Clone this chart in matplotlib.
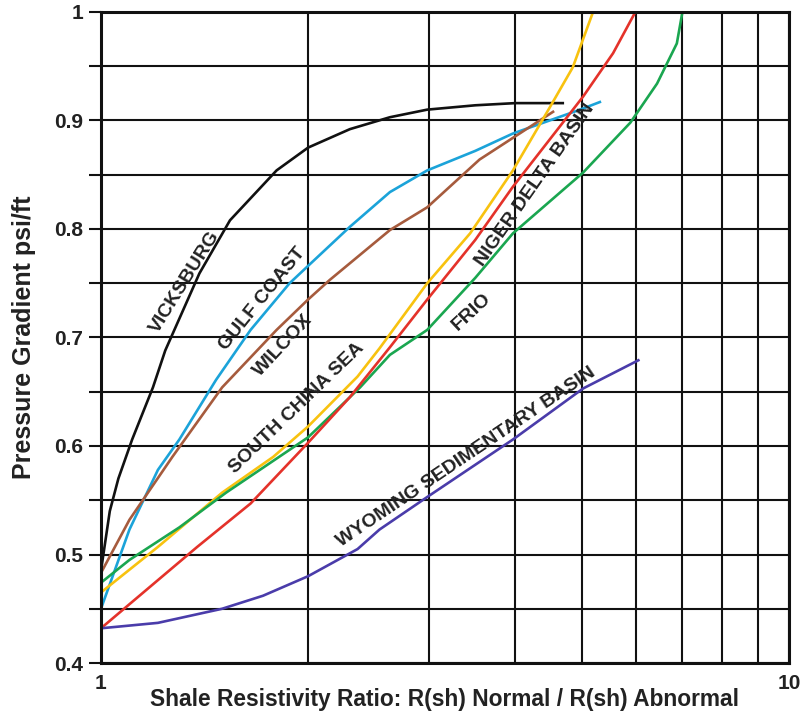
#--------importing modules-------------

import matplotlib.pyplot as plt
from matplotlib.ticker import NullFormatter
import numpy as np

#---------------------------------------
#-------curve data (ratio, gradient)----
#---------------------------------------

vicksburg_x = [1.0, 1.03, 1.06, 1.11, 1.19, 1.24, 1.39, 1.54, 1.80, 2.0, 2.3, 2.63, 2.98, 3.5, 4.0, 4.69]
vicksburg_y = [0.485, 0.54, 0.57, 0.606, 0.654, 0.688, 0.759, 0.808, 0.854, 0.875, 0.892, 0.903, 0.910, 0.914, 0.916, 0.916]

gulf_x = [1.0, 1.10, 1.21, 1.30, 1.47, 1.65, 1.88, 2.0, 2.30, 2.63, 2.98, 3.5, 3.97, 4.97, 5.31]
gulf_y = [0.45, 0.523, 0.578, 0.606, 0.661, 0.707, 0.750, 0.766, 0.802, 0.834, 0.854, 0.872, 0.888, 0.910, 0.917]

wilcox_x = [1.0, 1.10, 1.27, 1.50, 1.80, 2.0, 2.15, 2.63, 2.98, 3.55, 4.54]
wilcox_y = [0.483, 0.532, 0.590, 0.654, 0.707, 0.735, 0.753, 0.799, 0.820, 0.864, 0.908]

scs_x = [1.0, 1.21, 1.50, 1.78, 2.0, 2.36, 2.54, 2.98, 3.44, 3.97, 4.49, 4.85, 5.19]
scs_y = [0.465, 0.507, 0.557, 0.590, 0.618, 0.664, 0.690, 0.750, 0.796, 0.854, 0.912, 0.949, 1.0]

frio_x = [1.0, 1.10, 1.30, 1.52, 2.0, 2.38, 2.63, 2.98, 3.5, 3.97, 5.02, 5.88, 6.43, 6.87, 7.0]
frio_y = [0.474, 0.495, 0.525, 0.557, 0.608, 0.654, 0.684, 0.707, 0.755, 0.796, 0.852, 0.898, 0.934, 0.971, 1.0]

niger_x = [1.0, 1.38, 1.65, 2.0, 2.30, 2.63, 2.98, 3.5, 3.97, 5.02, 5.55, 5.98]
niger_y = [0.432, 0.507, 0.547, 0.603, 0.645, 0.691, 0.735, 0.790, 0.839, 0.922, 0.962, 1.0]

wyoming_x = [1.0, 1.21, 1.50, 1.72, 2.0, 2.36, 2.54, 2.98, 3.97, 5.02, 6.04]
wyoming_y = [0.432, 0.437, 0.450, 0.462, 0.480, 0.505, 0.523, 0.553, 0.606, 0.653, 0.679]

y_ticks = [0.4, 0.45, 0.5, 0.55, 0.6, 0.65, 0.7, 0.75, 0.8, 0.85, 0.9, 0.95, 1.0]
y_ticklabels = ['0.4', '', '0.5', '', '0.6', '', '0.7', '', '0.8', '', '0.9', '', '1']

#---------------------------------------
#-------figure and axes-----------------
#---------------------------------------

plt.rcParams['font.family'] = ['Liberation Sans', 'DejaVu Sans']

fig = plt.figure(figsize=(8.09, 7.17), dpi=100)
ax = fig.add_axes([0.1248, 0.0753, 0.8505, 0.908])

ax.set_xscale('log')
ax.set_xlim(1, 10)
ax.set_ylim(0.4, 1.0)

#---------grid: every step of the log decade and every 0.05--------
ax.set_xticks([1, 10])
ax.set_xticklabels(['1', '10'])
ax.set_xticks([2, 3, 4, 5, 6, 7, 8, 9], minor=True)
ax.xaxis.set_minor_formatter(NullFormatter())
ax.set_yticks(y_ticks)
ax.set_yticklabels(y_ticklabels)
ax.grid(True, which='both', color='#111111', linewidth=1.5)
ax.set_axisbelow(True)

ax.tick_params(axis='y', direction='out', length=9, width=1.5, color='#111111',
               labelsize=15, pad=4)
ax.tick_params(axis='x', which='both', length=0, labelsize=15, pad=8)
for lab in ax.get_xticklabels() + ax.get_yticklabels():
    lab.set_fontweight('bold')
    lab.set_color('#222222')
for s in ax.spines.values():
    s.set_linewidth(2.2)
    s.set_color('#111111')

#---------------------------------------
#-------the curves----------------------
#---------------------------------------

lw = 1.9
ax.plot(vicksburg_x, vicksburg_y, color='#111111', lw=lw)
ax.plot(gulf_x, gulf_y, color='#1ba3d9', lw=lw)
ax.plot(wilcox_x, wilcox_y, color='#a65b3d', lw=lw)
ax.plot(scs_x, scs_y, color='#f8c20f', lw=lw)
ax.plot(frio_x, frio_y, color='#1aa650', lw=lw)
ax.plot(niger_x, niger_y, color='#e4322a', lw=lw)
ax.plot(wyoming_x, wyoming_y, color='#4a3caa', lw=lw)

#---------curve names along the lines--------
txt = dict(fontsize=14, fontweight='bold', color='#222222', ha='center', va='center',
           rotation_mode='anchor')
ax.text(1.325, 0.751, 'VICKSBURG', rotation=58, **txt)
ax.text(1.714, 0.736, 'GULF COAST', rotation=51, **txt)
ax.text(1.838, 0.693, 'WILCOX', rotation=47, **txt)
ax.text(1.927, 0.635, 'SOUTH CHINA SEA', rotation=44, **txt)
ax.text(4.27, 0.841, 'NIGER DELTA BASIN', rotation=55, **txt)
ax.text(3.46, 0.724, 'FRIO', rotation=43, **txt)
ax.text(3.40, 0.590, 'WYOMING SEDIMENTARY BASIN', rotation=34, **txt)

ax.set_xlabel('Shale Resistivity Ratio: R(sh) Normal / R(sh) Abnormal',
              fontsize=16.4, fontweight='bold', color='#222222', labelpad=-4)
ax.set_ylabel('Pressure Gradient psi/ft', fontsize=18, fontweight='bold',
              color='#222222', labelpad=13)

plt.savefig('out.png', dpi=100)
